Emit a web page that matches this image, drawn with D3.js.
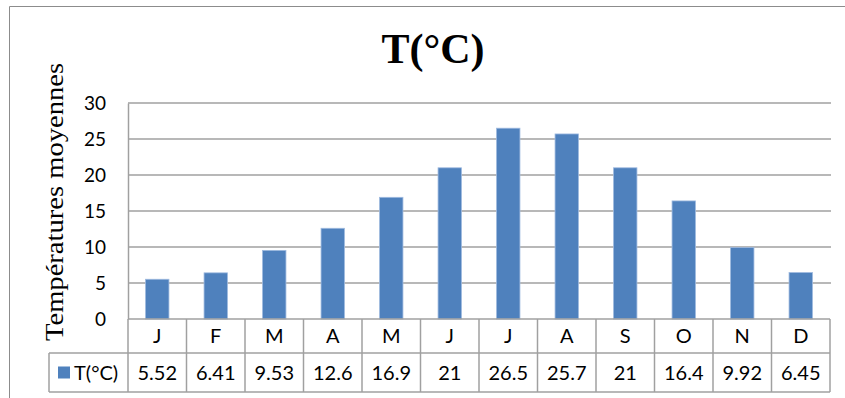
<!DOCTYPE html>
<html>
<head>
<meta charset="utf-8">
<script src="https://cdn.jsdelivr.net/npm/d3@7"></script>
<style>
  html, body { margin: 0; padding: 0; background: #fff; }
  svg { display: block; }
</style>
</head>
<body>
<svg id="chart" width="845" height="398"></svg>
<script>
// Monthly mean temperatures
const months = ["J", "F", "M", "A", "M", "J", "J", "A", "S", "O", "N", "D"];
const temps = [5.52, 6.41, 9.53, 12.6, 16.9, 21, 26.5, 25.7, 21, 16.4, 9.92, 6.45];
const tempLabels = ["5.52", "6.41", "9.53", "12.6", "16.9", "21", "26.5", "25.7", "21", "16.4", "9.92", "6.45"];
const yTicks = [0, 5, 10, 15, 20, 25, 30];
const seriesName = "T(°C)";
const chartTitle = "T(°C)";
const yTitle = "Températures moyennes";

const svg = d3.select("#chart");
const gridColor = "#a0a0a0";
const barColor = "#4f81bd";
const sansFont = "Lato, 'Open Sans', sans-serif";
const serifFont = "'Liberation Serif', 'Times New Roman', serif";

const plot = { left: 128, right: 830, top: 103, bottom: 319 };
const tableRows = [319, 353, 392];
const legendLeft = 49;

const idx = months.map((m, i) => i);
const x = d3.scaleBand().domain(idx).range([plot.left, plot.right]).paddingInner(0.6).paddingOuter(0.3);
const xCell = d3.scaleBand().domain(idx).range([plot.left, plot.right]);
const y = d3.scaleLinear().domain([0, 30]).range([plot.bottom, plot.top]);

// outer frame
svg.append("path")
  .attr("d", "M9.5,398 V6.5 H845")
  .attr("fill", "none").attr("stroke", "#8c8c8c").attr("stroke-width", 1);

// title
svg.append("text")
  .attr("x", 433).attr("y", 63)
  .attr("text-anchor", "middle")
  .attr("font-family", serifFont).attr("font-weight", "bold").attr("font-size", 42)
  .text(chartTitle);

// y-axis title
svg.append("text")
  .attr("transform", "translate(63,202) rotate(-90)")
  .attr("text-anchor", "middle")
  .attr("font-family", serifFont).attr("font-size", 26)
  .attr("textLength", 278).attr("lengthAdjust", "spacingAndGlyphs")
  .text(yTitle);

// gridlines
svg.append("g").selectAll("line").data(yTicks.filter(t => t > 0)).join("line")
  .attr("x1", plot.left).attr("x2", plot.right + 1)
  .attr("y1", d => y(d)).attr("y2", d => y(d))
  .attr("stroke", gridColor).attr("stroke-width", 1.5);

// y axis
const yAxis = d3.axisLeft(y).tickValues(yTicks).tickSize(0).tickPadding(22);
const gy = svg.append("g").attr("transform", `translate(${plot.left},0)`).call(yAxis);
gy.select(".domain").attr("stroke", gridColor).attr("stroke-width", 1.5);
gy.selectAll("text")
  .attr("font-family", sansFont).attr("font-size", 19).attr("fill", "#000")
  .attr("dy", "0.36em");

// bars
svg.append("g").selectAll("rect").data(temps).join("rect")
  .attr("x", (d, i) => x(i))
  .attr("width", x.bandwidth())
  .attr("y", d => y(d))
  .attr("height", d => y(0) - y(d))
  .attr("fill", barColor)
  .attr("stroke", "#9fbadf").attr("stroke-width", 0.8);

// data table grid
const tg = svg.append("g").attr("stroke", gridColor).attr("stroke-width", 1.5);
tg.append("line").attr("x1", plot.left).attr("x2", plot.right).attr("y1", tableRows[0]).attr("y2", tableRows[0]);
tg.append("line").attr("x1", legendLeft).attr("x2", plot.right).attr("y1", tableRows[1]).attr("y2", tableRows[1]);
tg.append("line").attr("x1", legendLeft).attr("x2", plot.right).attr("y1", tableRows[2]).attr("y2", tableRows[2]);
tg.append("line").attr("x1", legendLeft).attr("x2", legendLeft).attr("y1", tableRows[1]).attr("y2", tableRows[2]);
tg.selectAll("line.col").data(idx.concat([months.length])).join("line").attr("class", "col")
  .attr("x1", i => i < months.length ? xCell(i) : plot.right)
  .attr("x2", i => i < months.length ? xCell(i) : plot.right)
  .attr("y1", tableRows[0]).attr("y2", tableRows[2]);

// category row
svg.append("g").selectAll("text").data(months).join("text")
  .attr("x", (d, i) => xCell(i) + xCell.bandwidth() / 2)
  .attr("y", (tableRows[0] + tableRows[1]) / 2)
  .attr("dy", "0.36em")
  .attr("text-anchor", "middle")
  .attr("font-family", sansFont).attr("font-size", 20)
  .text(d => d);

// value row
svg.append("g").selectAll("text").data(tempLabels).join("text")
  .attr("x", (d, i) => xCell(i) + xCell.bandwidth() / 2)
  .attr("y", (tableRows[1] + tableRows[2]) / 2)
  .attr("dy", "0.36em")
  .attr("text-anchor", "middle")
  .attr("font-family", sansFont).attr("font-size", 20)
  .text(d => d);

// legend key
const midRow2 = (tableRows[1] + tableRows[2]) / 2;
svg.append("rect")
  .attr("x", 58).attr("y", midRow2 - 6).attr("width", 12).attr("height", 12)
  .attr("fill", barColor);
svg.append("text")
  .attr("x", 74).attr("y", midRow2).attr("dy", "0.36em")
  .attr("font-family", sansFont).attr("font-size", 20)
  .text(seriesName);
</script>
</body>
</html>
